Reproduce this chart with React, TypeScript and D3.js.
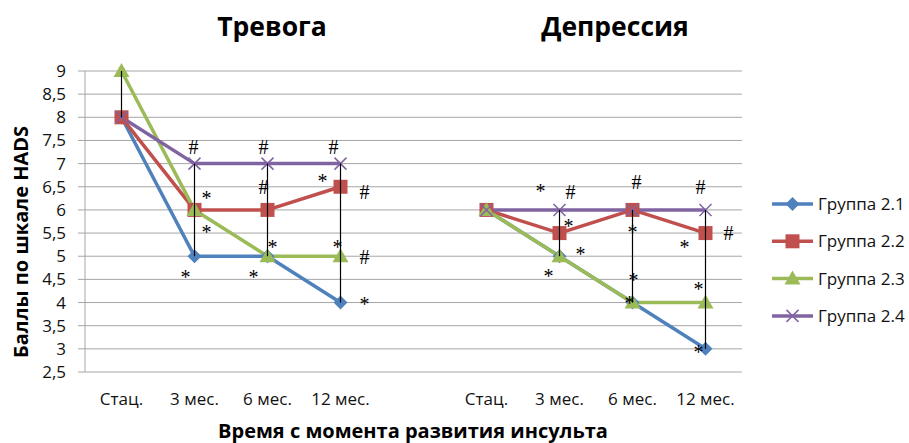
import { useEffect, useRef } from 'react'
import * as d3 from 'd3'

const categories = ['Стац.', '3 мес.', '6 мес.', '12 мес.', '', 'Стац.', '3 мес.', '6 мес.', '12 мес.']
const yTicks = [2.5, 3, 3.5, 4, 4.5, 5, 5.5, 6, 6.5, 7, 7.5, 8, 8.5, 9]

const group21 = [8, 5, 5, 4, null, 6, 5, 4, 3]
const group22 = [8, 6, 6, 6.5, null, 6, 5.5, 6, 5.5]
const group23 = [9, 6, 5, 5, null, 6, 5, 4, 4]
const group24 = [8, 7, 7, 7, null, 6, 6, 6, 6]

const seriesNames = ['Группа 2.1', 'Группа 2.2', 'Группа 2.3', 'Группа 2.4']
const panelTitles = ['Тревога', 'Депрессия']

// significance marks: [category index, value, horizontal offset, symbol]
const marks: [number, number, number, string][] = [
  [1, 7.36, -1, '#'], [1, 6.34, 12, '*'], [1, 5.61, 12, '*'], [1, 4.64, -9, '*'],
  [2, 7.36, -4, '#'], [2, 6.49, -4, '#'], [2, 5.28, 5, '*'], [2, 4.64, -14, '*'],
  [3, 7.36, -7, '#'], [3, 6.71, -18, '*'], [3, 6.39, 24, '#'], [3, 5.28, -3, '*'], [3, 4.98, 24, '#'], [3, 4.05, 24, '*'],
  [6, 6.49, -19, '*'], [6, 6.39, 11, '#'], [6, 5.74, 9, '*'], [6, 5.13, 21, '*'], [6, 4.66, -11, '*'],
  [7, 6.6, 4, '#'], [7, 5.61, 0, '*'], [7, 4.57, 1, '*'], [7, 4.08, -3, '*'],
  [8, 6.49, -5, '#'], [8, 5.28, -21, '*'], [8, 5.5, 23, '#'], [8, 4.38, -7, '*'], [8, 3.02, -7, '*'],
]

const COLORS = ['#4F81BD', '#C0504D', '#9BBB59', '#8064A2']
const FONT = "'Open Sans', 'Liberation Sans', sans-serif"

function marker(g: d3.Selection<SVGGElement, unknown, null, undefined>, i: number, x: number, y: number) {
  const c = COLORS[i]
  if (i === 0) {
    g.append('path').attr('d', `M${x},${y - 7}L${x + 7},${y}L${x},${y + 7}L${x - 7},${y}Z`).attr('fill', c)
  } else if (i === 1) {
    g.append('rect').attr('x', x - 7).attr('y', y - 7).attr('width', 14).attr('height', 14).attr('fill', c)
  } else if (i === 2) {
    g.append('path').attr('d', `M${x},${y - 8}L${x + 8},${y + 6}L${x - 8},${y + 6}Z`).attr('fill', c)
  } else {
    g.append('path')
      .attr('d', `M${x - 6},${y - 6}L${x + 6},${y + 6}M${x - 6},${y + 6}L${x + 6},${y - 6}`)
      .attr('stroke', c).attr('stroke-width', 1.5).attr('fill', 'none')
  }
}

export default function App() {
  const svgRef = useRef<SVGSVGElement>(null)

  useEffect(() => {
    if (!svgRef.current) return
    const width = 909
    const height = 443
    const svg = d3.select(svgRef.current)
    svg.selectAll('*').remove()
    svg.attr('width', width).attr('height', height)

    const x = d3.scaleBand<number>().domain(d3.range(categories.length)).range([85, 742])
    const y = d3.scaleLinear().domain([2.5, 9]).range([372, 71])
    const cx = (i: number) => (x(i) ?? 0) + x.bandwidth() / 2

    const g = svg.append('g')

    // Grid lines
    g.selectAll('line.grid')
      .data(yTicks)
      .enter().append('line')
      .attr('x1', 78).attr('x2', 742)
      .attr('y1', d => y(d)).attr('y2', d => y(d))
      .attr('stroke', '#A6A6A6').attr('stroke-width', 1)

    g.append('line')
      .attr('x1', 85).attr('x2', 85).attr('y1', y(9)).attr('y2', y(2.5))
      .attr('stroke', '#A6A6A6')

    // Tick labels
    g.selectAll('text.ytick')
      .data(yTicks)
      .enter().append('text')
      .attr('x', 66).attr('y', d => y(d) + 6)
      .attr('text-anchor', 'end')
      .attr('font-family', FONT).attr('font-size', 17).attr('fill', '#111')
      .text(d => String(d).replace('.', ','))

    g.selectAll('text.xtick')
      .data(categories)
      .enter().append('text')
      .attr('x', (_, i) => cx(i)).attr('y', 405)
      .attr('text-anchor', 'middle')
      .attr('font-family', FONT).attr('font-size', 17).attr('fill', '#111')
      .text(d => d)

    const series = [group21, group22, group23, group24]
    const line = d3.line<number | null>()
      .defined(d => d !== null)
      .x((_, i) => cx(i))
      .y(d => y(d as number))

    series.forEach((s, si) => {
      g.append('path')
        .datum(s)
        .attr('d', line)
        .attr('fill', 'none')
        .attr('stroke', COLORS[si])
        .attr('stroke-width', 3.5)
        .attr('stroke-linejoin', 'round')
    })
    series.forEach((s, si) => {
      s.forEach((v, i) => { if (v !== null) marker(g, si, cx(i), y(v)) })
    })

    // High-low lines
    categories.forEach((_, i) => {
      const vals = series.map(s => s[i]).filter(v => v !== null) as number[]
      if (!vals.length) return
      const hi = d3.max(vals) as number
      const lo = d3.min(vals) as number
      if (hi === lo) return
      g.append('line')
        .attr('x1', cx(i)).attr('x2', cx(i))
        .attr('y1', y(hi)).attr('y2', y(lo))
        .attr('stroke', '#000').attr('stroke-width', 1.2)
    })

    // Significance marks
    marks.forEach(([ci, v, dx, sym]) => {
      g.append('text')
        .attr('x', cx(ci) + dx)
        .attr('y', y(v) + (sym === '*' ? 11 : 7))
        .attr('text-anchor', 'middle')
        .attr('font-family', "'Liberation Serif', serif")
        .attr('font-size', sym === '*' ? 20 : 20)
        .attr('fill', '#000')
        .text(sym)
    })

    // Titles
    ;[272, 615].forEach((tx, pi) => {
      g.append('text')
        .attr('x', tx).attr('y', 36)
        .attr('text-anchor', 'middle')
        .attr('font-family', FONT).attr('font-weight', 'bold').attr('font-size', 26.5)
        .text(panelTitles[pi])
    })

    g.append('text')
      .attr('transform', 'rotate(-90)')
      .attr('x', -242).attr('y', 28)
      .attr('text-anchor', 'middle')
      .attr('font-family', FONT).attr('font-weight', 'bold').attr('font-size', 20)
      .text('Баллы по шкале HADS')

    g.append('text')
      .attr('x', 413).attr('y', 438)
      .attr('text-anchor', 'middle')
      .attr('font-family', FONT).attr('font-weight', 'bold').attr('font-size', 20)
      .text('Время с момента развития инсульта')

    // Legend
    seriesNames.forEach((name, i) => {
      const ly = 204 + i * 37.3
      g.append('line')
        .attr('x1', 772).attr('x2', 813).attr('y1', ly).attr('y2', ly)
        .attr('stroke', COLORS[i]).attr('stroke-width', 3.5)
      marker(g, i, 792.5, ly)
      g.append('text')
        .attr('x', 818).attr('y', ly + 6)
        .attr('font-family', FONT).attr('font-size', 17).attr('fill', '#111')
        .text(name)
    })
  }, [])

  return (
    <div style={{ position: 'absolute', left: 0, top: 0, background: '#fff' }}>
      <svg ref={svgRef} style={{ display: 'block' }} />
    </div>
  )
}
